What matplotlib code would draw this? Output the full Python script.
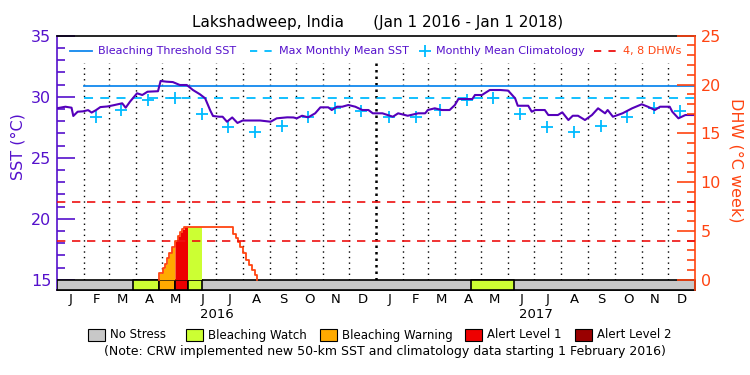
import datetime as dt
import numpy as np
import matplotlib
matplotlib.use('Agg')
import matplotlib.pyplot as plt
from matplotlib.patches import Rectangle
from matplotlib.lines import Line2D
from matplotlib.transforms import blended_transform_factory

# ---------------- data ----------------
title = "Lakshadweep, India      (Jan 1 2016 - Jan 1 2018)"
start_date = dt.date(2016, 1, 1)
n_days = 731  # Jan 1 2016 .. Jan 1 2018

# daily SST (days since Jan 1 2016, deg C)
sst_days = [0, 10, 17, 19, 24, 30, 36, 40, 45, 50, 58, 65, 75, 79, 84, 92, 98, 104, 116,
            119, 126, 133, 141, 149, 156, 164, 170, 176, 179, 186, 190, 195, 201, 207, 213,
            222, 233, 245, 252, 264, 271, 275, 281, 288, 296, 302, 311, 315, 321, 327, 334,
            342, 350, 357, 362, 368, 373, 379, 385, 391, 402, 414, 422, 425, 433, 441, 450,
            456, 460, 468, 476, 479, 487, 496, 508, 517, 525, 528, 540, 544, 548, 559, 563,
            574, 579, 586, 591, 597, 605, 613, 620, 628, 631, 637, 648, 659, 670, 677, 685,
            691, 702, 705, 712, 720, 729]
sst_vals = [29.05, 29.18, 29.1, 28.42, 28.77, 28.8, 28.9, 28.7, 28.9, 29.15, 29.2, 29.3, 29.46,
            29.1, 29.6, 30.28, 30.14, 30.41, 30.45, 31.29, 31.23, 31.2, 30.96, 30.96, 30.55,
            30.2, 29.87, 28.85, 28.42, 28.36, 28.36, 27.95, 28.3, 27.85, 28.05, 28.05, 28.05,
            27.95, 28.23, 28.31, 28.3, 28.23, 28.44, 28.31, 28.64, 29.13, 29.13, 28.91, 29.18,
            29.18, 29.32, 29.18, 28.91, 28.91, 28.64, 28.64, 28.64, 28.5, 28.36, 28.64, 28.44,
            28.64, 28.64, 28.91, 29.05, 28.91, 28.91, 29.32, 29.81, 29.81, 29.81, 30.14, 30.14,
            30.55, 30.55, 30.5, 29.87, 29.26, 29.26, 28.77, 28.91, 28.91, 28.5, 28.5, 28.72,
            28.09, 28.44, 28.44, 28.09, 28.5, 29.05, 28.64, 28.91, 28.36, 28.64, 29.05, 29.38,
            29.18, 28.91, 29.18, 29.18, 28.77, 28.23, 28.5, 28.5]

# monthly mean climatology (Jan 2016 .. Dec 2017), plotted mid-month
clim_vals = [np.nan, 28.3, 28.9, 29.75, 29.87, 28.55, 27.5, 27.1, 27.6, 28.3, 29.1, 28.85,
             28.3, 28.3, 28.9, 29.75, 29.87, 28.55, 27.5, 27.1, 27.6, 28.3, 29.1, 28.85]

mmm = 29.87                 # max monthly mean
bleach_threshold = mmm + 1  # bleaching threshold
ref_start_day = 31          # reference lines start Feb 1 2016

# degree heating weeks (value from each day onward, step function)
dhw_days = [117.5, 121.4, 124, 126.7, 129, 131.7, 135.5, 138.6, 141.2, 143.9, 146.2,
            202.3, 205.3, 208, 210, 213, 216.9, 220.7, 223.4, 227.2, 229.9]
dhw_vals = [0.65, 1.16, 1.6, 2.25, 2.76, 3.31, 3.96, 4.47, 4.91, 5.15, 5.42,
            4.67, 4.23, 3.89, 3.37, 2.7, 2.01, 1.5, 0.99, 0.48, 0.0]
dhw_levels = [4, 8]

# stress level periods (0 none, 1 watch, 2 warning, 3 alert 1, 4 alert 2)
stress_start = [87, 117.5, 135.5, 149.9, 475]
stress_end = [117.5, 135.5, 149.9, 166.5, 524]
stress_level = [1, 2, 3, 1, 1]

stress_names = ["No Stress", "Bleaching Watch", "Bleaching Warning", "Alert Level 1", "Alert Level 2"]
stress_colors = ["#c8c8c8", "#ccff33", "#ffaa00", "#ee0000", "#990000"]

month_letters = ["J", "F", "M", "A", "M", "J", "J", "A", "S", "O", "N", "D"]
years = [2016, 2017]
note = "(Note: CRW implemented new 50-km SST and climatology data starting 1 February 2016)"

# ---------------- styling ----------------
PURPLE = "#5511cc"
SSTLINE = "#5500bb"
ORANGE = "#ff4411"
BLUE = "#1188ee"
CYAN = "#00bbff"
plt.rcParams['font.family'] = ['DejaVu Sans']

W, H = 750, 375
fig = plt.figure(figsize=(7.5, 3.75), dpi=100)
x0, x1, ytop, ybot = 56.7, 695, 35.7, 290
ax = fig.add_axes([x0 / W, 1 - ybot / H, (x1 - x0) / W, (ybot - ytop) / H])
ax2 = ax.twinx()

sst_lo, sst_hi = 14.16, 35.0
ax.set_xlim(0, n_days)
ax.set_ylim(sst_lo, sst_hi)
ax2.set_ylim((sst_lo - 15) * 1.25, (sst_hi - 15) * 1.25)

# month boundaries
month_starts = []
for y in years:
    for m in range(1, 13):
        month_starts.append((dt.date(y, m, 1) - start_date).days)
month_starts.append(n_days)
for d in month_starts[1:-1]:
    if d == 366:
        ax.vlines(d, 15, 32.8, colors='black', linestyles=(0, (1, 1.6)), linewidth=1.8, zorder=1)
    else:
        ax.vlines(d, 15, 32.8, colors='black', linestyles=(0, (1, 3)), linewidth=1.0, zorder=1)

# stress bar
ax.broken_barh([(0, n_days)], (sst_lo, 15 - sst_lo), facecolors=stress_colors[0],
               edgecolor='black', linewidth=1.2, zorder=3)
for s, e, lv in zip(stress_start, stress_end, stress_level):
    ax.broken_barh([(s, e - s)], (sst_lo, 15 - sst_lo), facecolors=stress_colors[lv],
                   edgecolor='black', linewidth=1.2, zorder=4)

# reference lines
ax.plot([ref_start_day, n_days], [bleach_threshold] * 2, color=BLUE, lw=1.3, zorder=5)
ax.plot([ref_start_day, n_days], [mmm] * 2, color=CYAN, lw=1.3, ls=(0, (5, 4)), zorder=5)

# climatology
mid_days = [(dt.date(y, m, 15) - start_date).days for y in years for m in range(1, 13)]
ax.plot(mid_days, clim_vals, ls='none', marker='+', ms=8, mew=1.3, color=CYAN, zorder=6)

# SST
ax.plot(sst_days, sst_vals, color=SSTLINE, lw=1.5, zorder=7)

# DHW on right axis
dd = np.array(dhw_days, float)
dv = np.array(dhw_vals, float)
def dhw_at(t):
    idx = np.searchsorted(dd, t, side='right') - 1
    out = np.where(idx >= 0, dv[np.clip(idx, 0, None)], 0.0)
    return out
for s, e, lv in zip(stress_start, stress_end, stress_level):
    g = np.linspace(s, e, 400)
    ax2.fill_between(g, 0, dhw_at(g), color=stress_colors[lv], lw=0, zorder=2)
ax2.plot(np.concatenate([[dd[0]], dd]), np.concatenate([[0], dv]), drawstyle='steps-post',
         color=ORANGE, lw=1.3, zorder=3)
for lv in dhw_levels:
    ax2.axhline(lv, color='#ee1111', lw=1.2, ls=(0, (5, 4)), zorder=3)

# ticks & spines
ax.set_xticks([])
ax.set_yticks(range(15, 36, 5))
ax.set_yticks(range(15, 36, 1), minor=True)
ax.tick_params(axis='y', which='major', direction='in', length=13, width=1.2, color=PURPLE,
               labelcolor=PURPLE, labelsize=11.5, pad=4)
ax.tick_params(axis='y', which='minor', direction='in', length=6, width=1.2, color=PURPLE)
ax2.set_yticks(range(0, 26, 5))
ax2.set_yticks(range(0, 26, 1), minor=True)
ax2.tick_params(axis='y', which='major', direction='in', length=13, width=1.2, color=ORANGE,
                labelcolor=ORANGE, labelsize=11.5, pad=4)
ax2.tick_params(axis='y', which='minor', direction='in', length=6, width=1.2, color=ORANGE)
ax.spines['left'].set_color(PURPLE)
ax.spines['right'].set_visible(False)
ax2.spines['right'].set_color(ORANGE)
for sp in ['left', 'top', 'bottom']:
    ax2.spines[sp].set_visible(False)
for sp in ax.spines.values():
    sp.set_linewidth(1.2)
ax2.spines['right'].set_linewidth(1.2)

# month and year labels
tr = blended_transform_factory(ax.transData, ax.transAxes)
for i in range(24):
    c = (month_starts[i] + month_starts[i + 1]) / 2
    ax.text(c, -0.037, month_letters[i % 12], transform=tr, ha='center', va='center', fontsize=9.5)
for j, y in enumerate(years):
    c = (month_starts[12 * j] + month_starts[12 * j + 12]) / 2
    ax.text(c, -0.095, str(y), transform=tr, ha='center', va='center', fontsize=9.5)

# title and axis labels
fig.text(378 / W, 1 - 22 / H, title, ha='center', va='center', fontsize=11)
fig.text(18 / W, 1 - 147 / H, "SST (°C)", rotation=90, ha='center', va='center',
         fontsize=11.5, color=PURPLE)
fig.text(736 / W, 1 - 160 / H, "DHW (°C week)", rotation=270, ha='center', va='center',
         fontsize=11.5, color=ORANGE)

# top legend (axes fraction)
ly = 1 - (51 - ytop) / (ybot - ytop)
def fx(px):
    return (px - x0) / (x1 - x0)
ax.add_line(Line2D([fx(70), fx(92)], [ly, ly], transform=ax.transAxes, color=BLUE, lw=1.3))
ax.text(fx(98), ly, "Bleaching Threshold SST", transform=ax.transAxes, va='center',
        fontsize=8, color=PURPLE)
ax.add_line(Line2D([fx(250), fx(274)], [ly, ly], transform=ax.transAxes, color=CYAN, lw=1.3,
                   ls=(0, (4, 4))))
ax.text(fx(279), ly, "Max Monthly Mean SST", transform=ax.transAxes, va='center',
        fontsize=8, color=PURPLE)
ax.add_line(Line2D([fx(425)], [ly], transform=ax.transAxes, color=CYAN, marker='+', ms=8,
                   mew=1.3, ls='none'))
ax.text(fx(436), ly, "Monthly Mean Climatology", transform=ax.transAxes, va='center',
        fontsize=8, color=PURPLE)
ax.add_line(Line2D([fx(594), fx(618)], [ly, ly], transform=ax.transAxes, color='#ee1111', lw=1.3,
                   ls=(0, (4, 4))))
ax.text(fx(623), ly, "4, 8 DHWs", transform=ax.transAxes, va='center', fontsize=8, color=ORANGE)

# bottom legend
box_x = [88, 186, 320, 465, 575]
ly2 = 335
for bx, name, col in zip(box_x, stress_names, stress_colors):
    fig.patches.append(Rectangle((bx / W, 1 - (ly2 + 6) / H), 17 / W, 12 / H,
                                 transform=fig.transFigure, facecolor=col, edgecolor='black',
                                 lw=0.8))
    fig.text((bx + 22) / W, 1 - ly2 / H, name, ha='left', va='center', fontsize=8.5)
fig.text(385 / W, 1 - 352 / H, note, ha='center', va='center', fontsize=9)

fig.savefig('out.png', dpi=100)
